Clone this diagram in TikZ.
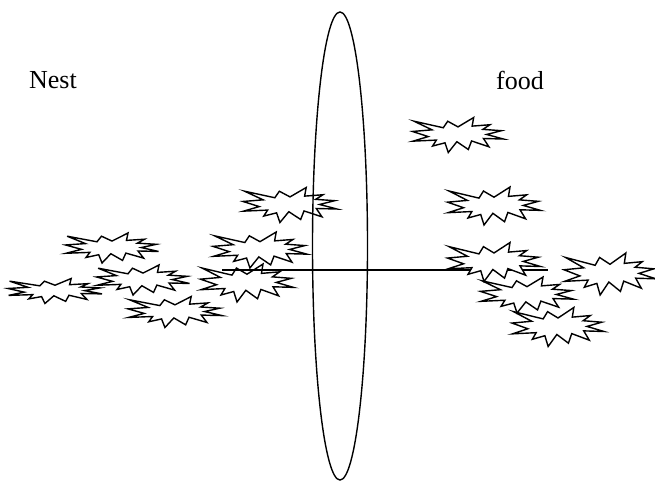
\documentclass[tikz,border=0pt]{standalone}
\usepackage{fontspec}
\setmainfont{Liberation Serif}
\usetikzlibrary{shapes.geometric}
\begin{document}
\begin{tikzpicture}[x=1pt,y=-1pt,
  outline/.style={draw=black, line width=1.4pt, line join=miter},
  lbl/.style={font=\fontsize{26}{30}\selectfont, inner sep=0pt},
  explosion/.pic={
    \filldraw[outline, fill=white]
      (0,-0.2315) -- (0.1723,-0.5) -- (0.1553,-0.2535) -- (0.3509,-0.2937)
      -- (0.2732,-0.1613) -- (0.4767,-0.1233) -- (0.3151,-0.0150) -- (0.5,0.1153)
      -- (0.2795,0.0992) -- (0.3400,0.3377) -- (0.1491,0.1693) -- (0.1133,0.4137)
      -- (-0.0124,0.1914) -- (-0.1072,0.5) -- (-0.1428,0.2235) -- (-0.2795,0.3156)
      -- (-0.2376,0.1452) -- (-0.4938,0.1753) -- (-0.3277,0.0451) -- (-0.5,-0.1012)
      -- (-0.2858,-0.1474) -- (-0.4829,-0.3938) -- (-0.1615,-0.2074) -- (-0.1133,-0.3938)
      -- cycle;
  }]
\useasboundingbox (0,0) rectangle (655,483);
\node[lbl] (nest) at (53,80) {Nest};
\node[lbl] (food) at (520,80) {food};
% left starbursts
\pic[xscale=93, yscale=30] (b1) at (112,248) {explosion};
\pic[xscale=94, yscale=25] (b2) at (55,291) {explosion};
\pic[xscale=93, yscale=30] (b3) at (143,280) {explosion};
\pic[xscale=94, yscale=31] (b4) at (175,312) {explosion};
\pic[xscale=94, yscale=36] (b5) at (260,250) {explosion};
\pic[xscale=93, yscale=38] (b6) at (247,283) {explosion};
\pic[xscale=94, yscale=35] (b7) at (290,205) {explosion};
% line
\coordinate (ls) at (222,270);
\coordinate (le) at (548,270);
\draw[outline] (ls) -- (le);
% right starbursts
\pic[xscale=91, yscale=35] (b8) at (458,135) {explosion};
\pic[xscale=93, yscale=38] (b9) at (494,206) {explosion};
\pic[xscale=93, yscale=39] (b10) at (494,262) {explosion};
\pic[xscale=92, yscale=39] (b12) at (558,327) {explosion};
\pic[xscale=93, yscale=36] (b11) at (527,295) {explosion};
\pic[xscale=92, yscale=42] (b13) at (610,274) {explosion};
% ellipse
\node[ellipse, outline, minimum width=55pt, minimum height=468pt, inner sep=0pt] (lens) at (340,246) {};
\end{tikzpicture}
\end{document}
